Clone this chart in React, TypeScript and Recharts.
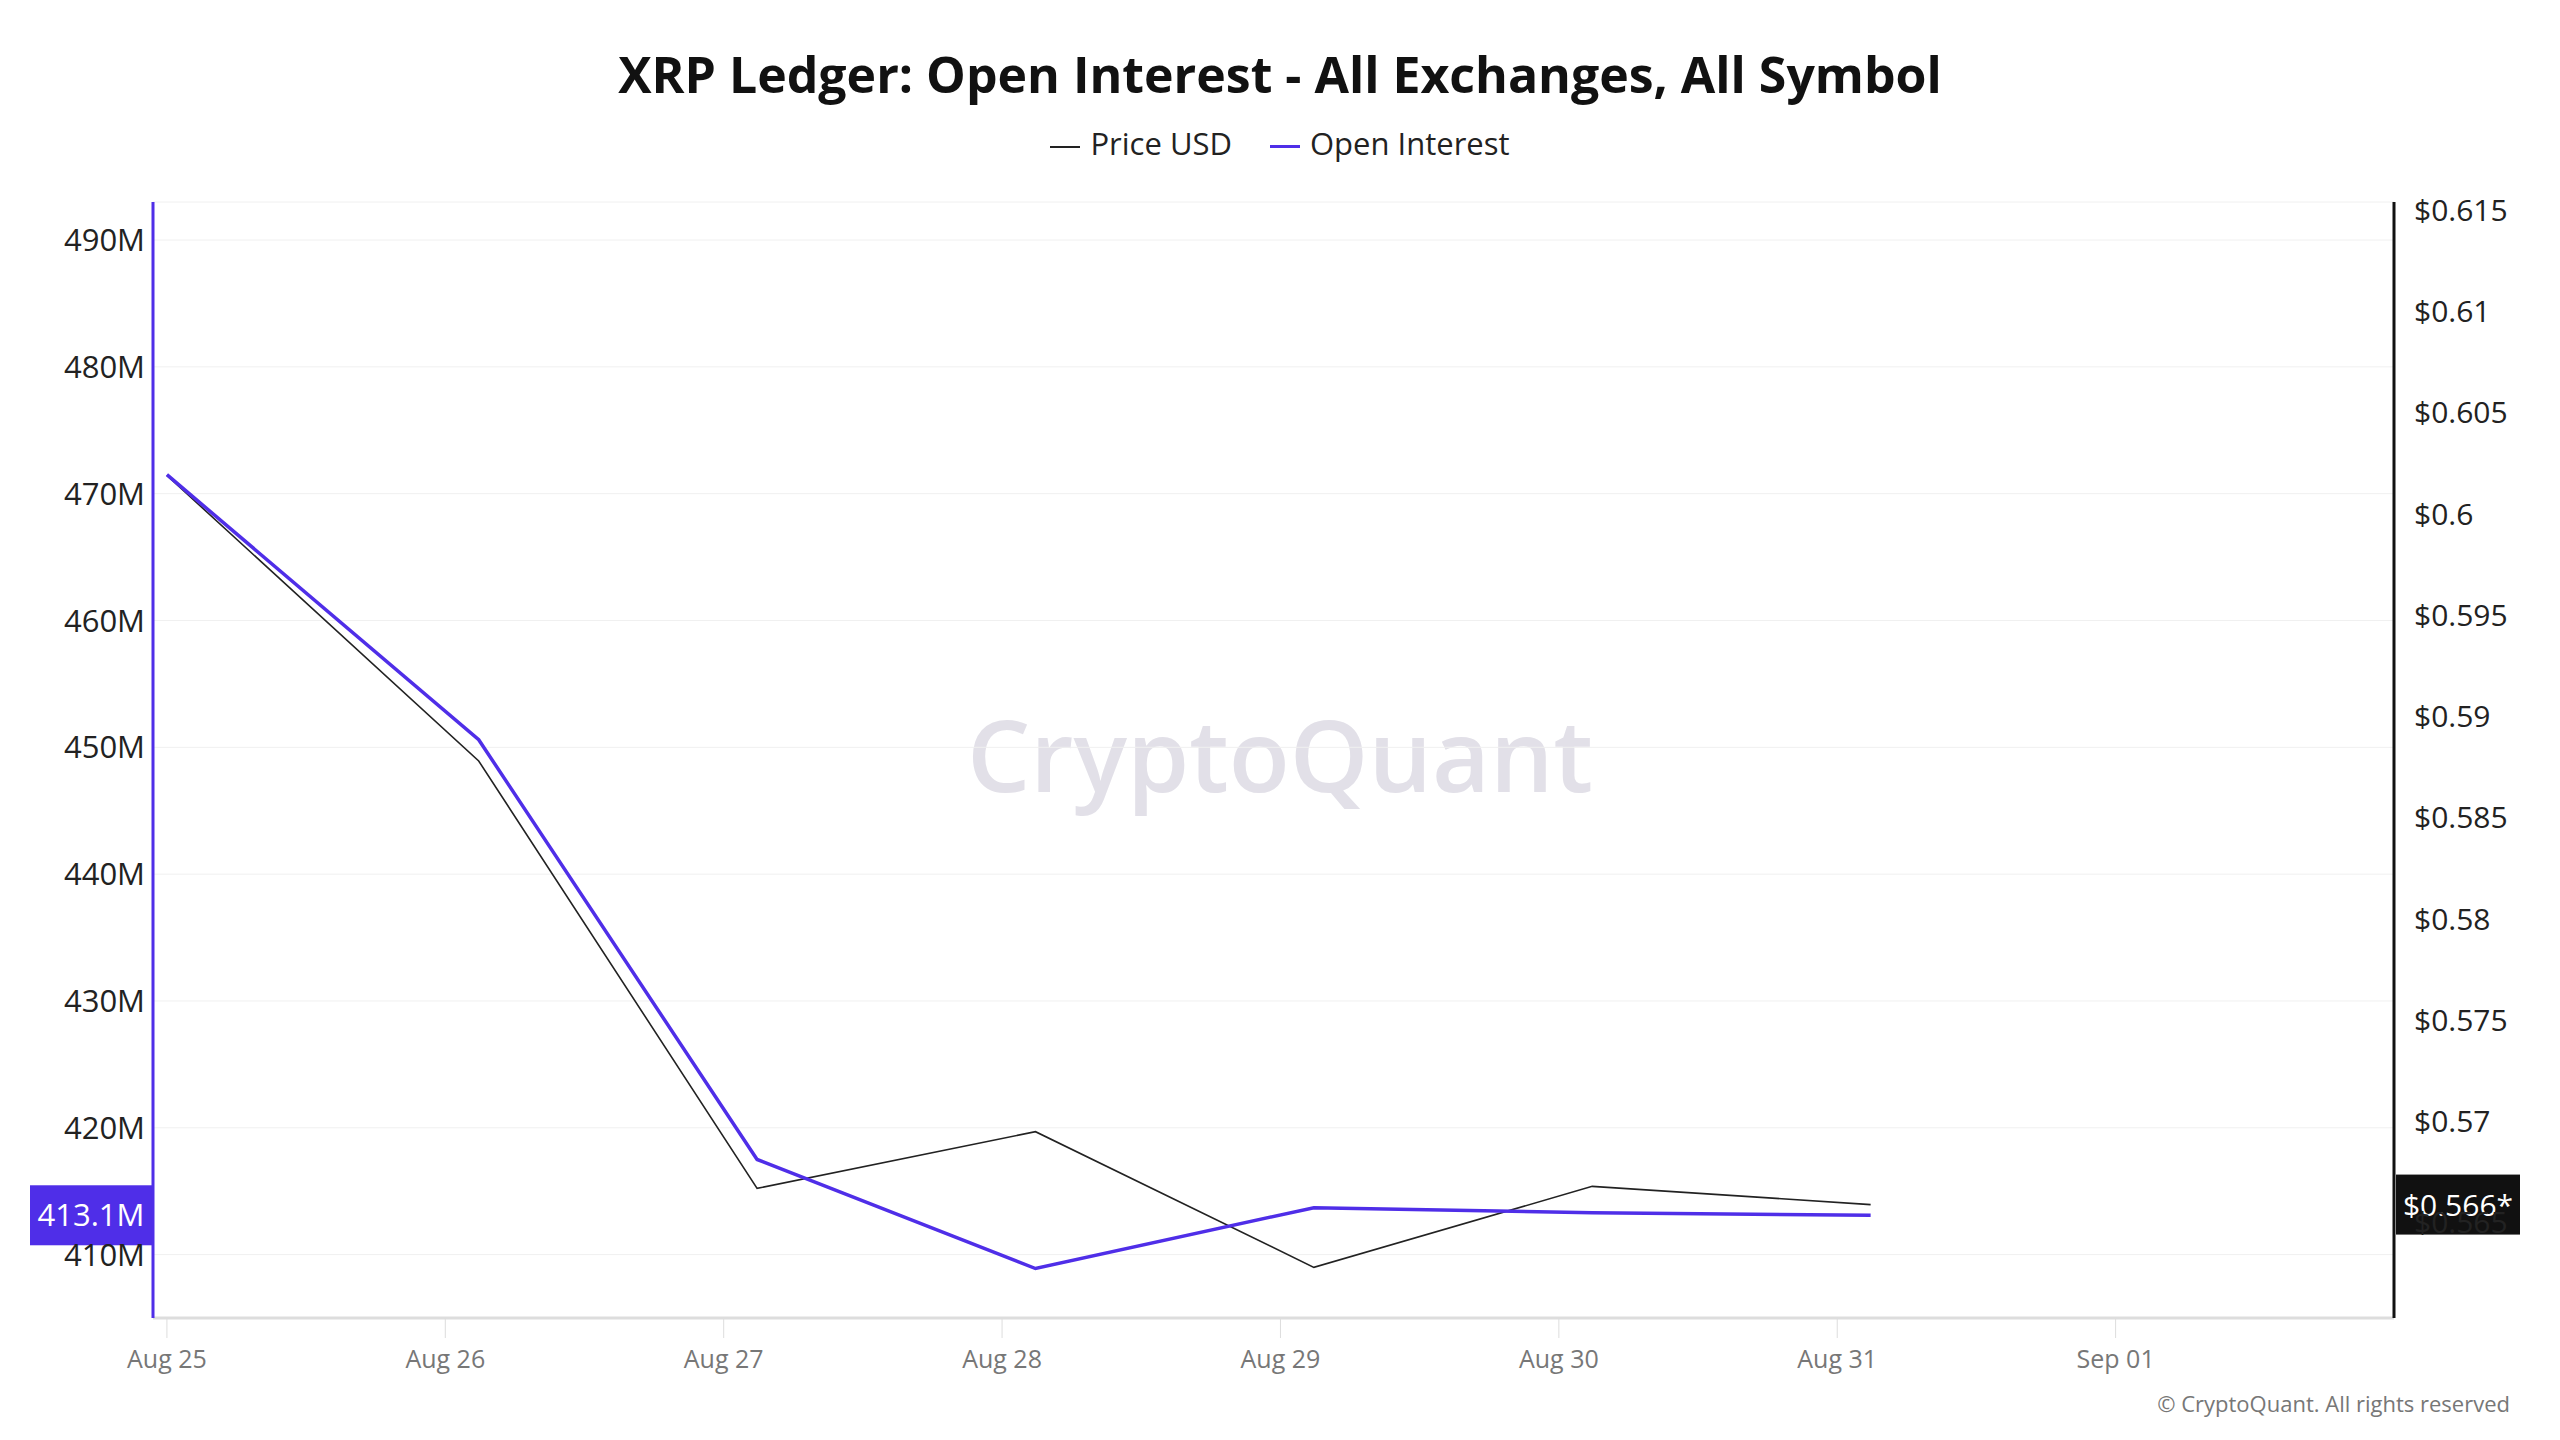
import React from "react";
import { LineChart, Line, XAxis, YAxis, CartesianGrid, ReferenceLine } from "recharts";

const dayLabels = ["Aug 25", "Aug 26", "Aug 27", "Aug 28", "Aug 29", "Aug 30", "Aug 31", "Sep 01"];
const pointPos = [0, 1.12, 2.12, 3.12, 4.12, 5.12, 6.12];
const openInterest = [471.5, 450.6, 417.5, 408.9, 413.7, 413.3, 413.1];
const priceUsd = [0.6019, 0.5878, 0.5667, 0.5695, 0.5628, 0.5668, 0.5659];
const leftTicks = [410, 420, 430, 440, 450, 460, 470, 480, 490];
const rightTicks = [0.565, 0.57, 0.575, 0.58, 0.585, 0.59, 0.595, 0.6, 0.605, 0.61, 0.615];

const data = openInterest.map((v, i) => ({ x: pointPos[i], oi: v, price: priceUsd[i] }));

const OI = "#4f2ee8";
const font = "'Open Sans', 'Noto Sans', sans-serif";

const LeftBadge = (props: any) => {
  const { viewBox } = props;
  const y = viewBox.y;
  return (
    <g>
      <rect x={30} y={y - 30} width={123} height={60} fill={OI} />
      <text x={91} y={y + 11} textAnchor="middle" fill="#fff" fontSize={31} fontFamily={font}>413.1M</text>
    </g>
  );
};
const RightBadge = (props: any) => {
  const { viewBox } = props;
  const y = viewBox.y;
  const x = viewBox.x + viewBox.width;
  return (
    <g>
      <rect x={x + 2} y={y - 30} width={124} height={60} fill="#111" />
      <text x={x + 64} y={y + 11} textAnchor="middle" fill="#fff" fontSize={30} fontFamily={font}>$0.566*</text>
    </g>
  );
};

export default function App() {
  return (
    <div style={{ position: "relative", width: 2560, height: 1440, margin: -8, background: "#fff", fontFamily: font }}>
      <div style={{ position: "absolute", top: 40, width: 2560, textAlign: "center", fontSize: 50, fontWeight: 700, color: "#111" }}>
        XRP Ledger: Open Interest - All Exchanges, All Symbol
      </div>
      <div style={{ position: "absolute", top: 122, width: 2560, display: "flex", justifyContent: "center", gap: 38, fontSize: 31, color: "#222" }}>
        <span><span style={{ display: "inline-block", width: 30, height: 2, background: "#222", verticalAlign: "middle", marginRight: 10 }} />Price USD</span>
        <span><span style={{ display: "inline-block", width: 30, height: 3, background: OI, verticalAlign: "middle", marginRight: 10 }} />Open Interest</span>
      </div>
      <div style={{ position: "absolute", top: 685, width: 2560, textAlign: "center", fontSize: 100, fontWeight: 600, color: "#e2e0e8" }}>
        CryptoQuant
      </div>
      <div style={{ position: "absolute", top: 1388, right: 50, fontSize: 22, color: "#777" }}>© CryptoQuant. All rights reserved</div>
      <div style={{ position: "absolute", top: 0, left: 0 }}>
        <LineChart width={2560} height={1440} data={data} margin={{ top: 202, bottom: 0, left: 0, right: 0 }}>
          <CartesianGrid yAxisId="l" vertical={false} stroke="#f0f0f0" />
          <XAxis dataKey="x" type="number" domain={[-0.05, 8]} ticks={[0, 1, 2, 3, 4, 5, 6, 7]} tickFormatter={(v: number) => dayLabels[v]}
            height={122} tickSize={20} tickLine={{ stroke: "#ddd" }} axisLine={{ stroke: "#ddd", strokeWidth: 3 }}
            tick={{ fill: "#777", fontSize: 25, fontFamily: font, dy: 10 }} allowDataOverflow />
          <YAxis yAxisId="l" orientation="left" width={153} domain={[405, 493]} ticks={leftTicks} tickFormatter={(v: number) => `${v}M`}
            tickLine={false} axisLine={{ stroke: OI, strokeWidth: 3 }} tick={{ fill: "#222", fontSize: 31, fontFamily: font }} allowDataOverflow />
          <YAxis yAxisId="r" orientation="right" width={166} domain={[0.5603, 0.6154]} ticks={rightTicks} tickFormatter={(v: number) => `$${+v.toFixed(3)}`}
            tickLine={false} axisLine={{ stroke: "#111", strokeWidth: 3 }} tick={{ fill: "#222", fontSize: 30, fontFamily: font, textAnchor: "start", dx: 12 }} allowDataOverflow />
          <Line yAxisId="r" dataKey="price" stroke="#222" strokeWidth={1.6} dot={false} isAnimationActive={false} />
          <Line yAxisId="l" dataKey="oi" stroke={OI} strokeWidth={3.5} dot={false} isAnimationActive={false} />
          <ReferenceLine yAxisId="l" y={413.1} stroke="none" label={<LeftBadge />} />
          <ReferenceLine yAxisId="r" y={0.5659} stroke="none" label={<RightBadge />} />
        </LineChart>
      </div>
    </div>
  );
}
